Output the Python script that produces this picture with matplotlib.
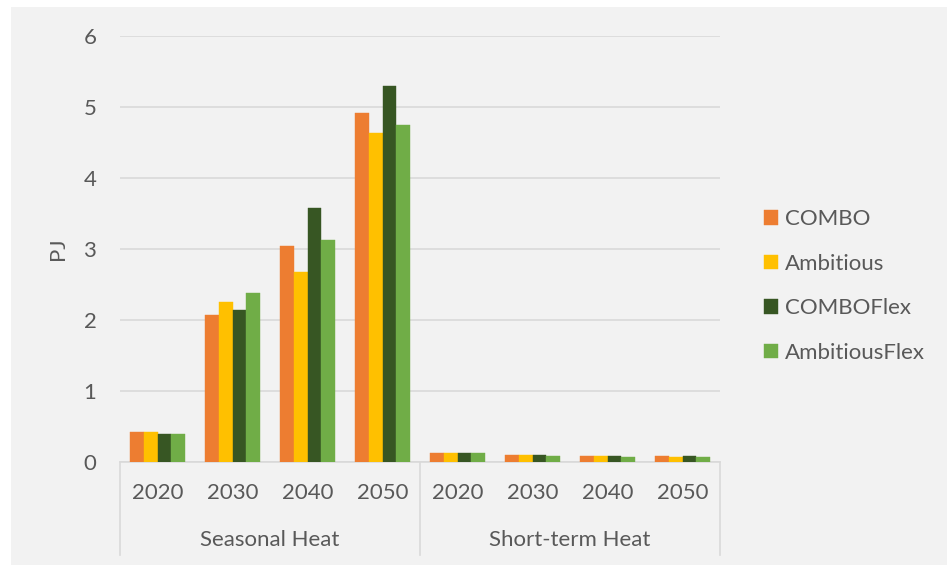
import numpy as np
import matplotlib
matplotlib.use("Agg")
import matplotlib.pyplot as plt
from matplotlib.patches import Rectangle
from matplotlib.lines import Line2D
import matplotlib.transforms as mtransforms

plt.rcParams['font.family'] = ['Lato', 'DejaVu Sans']

groups = ["Seasonal Heat", "Short-term Heat"]
years = ["2020", "2030", "2040", "2050"]
series = ["COMBO", "Ambitious", "COMBOFlex", "AmbitiousFlex"]
colors = ["#ED7D31", "#FFC000", "#375623", "#70AD47"]

combo = [0.42, 2.07, 3.04, 4.91, 0.12, 0.10, 0.09, 0.09]
ambitious = [0.42, 2.26, 2.68, 4.63, 0.12, 0.10, 0.08, 0.07]
comboflex = [0.40, 2.14, 3.58, 5.29, 0.12, 0.10, 0.08, 0.09]
ambitiousflex = [0.40, 2.38, 3.12, 4.74, 0.12, 0.09, 0.07, 0.07]
values = [combo, ambitious, comboflex, ambitiousflex]

W, H = 947, 565
fs = 16
txt = "#595959"
fig = plt.figure(figsize=(W / 100, H / 100), dpi=100)
fig.patch.set_facecolor("white")
fig.add_artist(Rectangle((11 / W, 0), 1 - 11 / W, 1 - 7 / H, transform=fig.transFigure,
                         facecolor="#F2F2F2", edgecolor="none", zorder=0))

ax = fig.add_axes([120 / W, (H - 462) / H, 600 / W, (462 - 36) / H])
ax.set_facecolor("none")

n = len(years) * len(groups)
x = np.arange(n)
bw = 0.183
for i, (s, v, c) in enumerate(zip(series, values, colors)):
    ax.bar(x + (i - 1.5) * bw, v, width=bw, color=c, label=s, zorder=3,
           edgecolor=c, linewidth=0.3)

ax.set_xlim(-0.5, n - 0.5)
ax.set_ylim(0, 6)
ax.set_yticks(range(7))
ax.yaxis.grid(True, color="#D9D9D9", linewidth=1.2, zorder=0)
for sp in ["top", "right", "left"]:
    ax.spines[sp].set_visible(False)
ax.spines["bottom"].set_color("#D9D9D9")
ax.spines["bottom"].set_linewidth(1.2)
ax.tick_params(axis="y", length=0, labelsize=fs, labelcolor=txt, pad=17)
ax.set_xticks(x)
ax.set_xticklabels(years * len(groups))
ax.tick_params(axis="x", length=0, labelsize=fs, labelcolor=txt, pad=15)
ax.set_ylabel("PJ", fontsize=fs, color=txt, labelpad=11)

# multi-level category axis
trans = mtransforms.blended_transform_factory(ax.transData, ax.transAxes)
drop = -(555 - 462) / (462 - 36)
for xb in [-0.5, 3.5, 7.5]:
    ax.add_line(Line2D([xb, xb], [0, drop], transform=trans, color="#D9D9D9",
                       linewidth=1.2, clip_on=False))
for j, g in enumerate(groups):
    ax.text(j * 4 + 1.5, -(540 - 462) / (462 - 36), g, transform=trans,
            ha="center", va="center", fontsize=fs, color=txt)

leg = ax.legend(loc="center left", frameon=False, fontsize=fs, labelcolor=txt,
                handlelength=0.63, handleheight=0.63, labelspacing=1.1,
                handletextpad=0.3, borderpad=0.4)
leg.set_bbox_to_anchor((744 / W, (H - 286) / H), transform=fig.transFigure)

fig.savefig("out.png", dpi=100, facecolor=fig.get_facecolor())
